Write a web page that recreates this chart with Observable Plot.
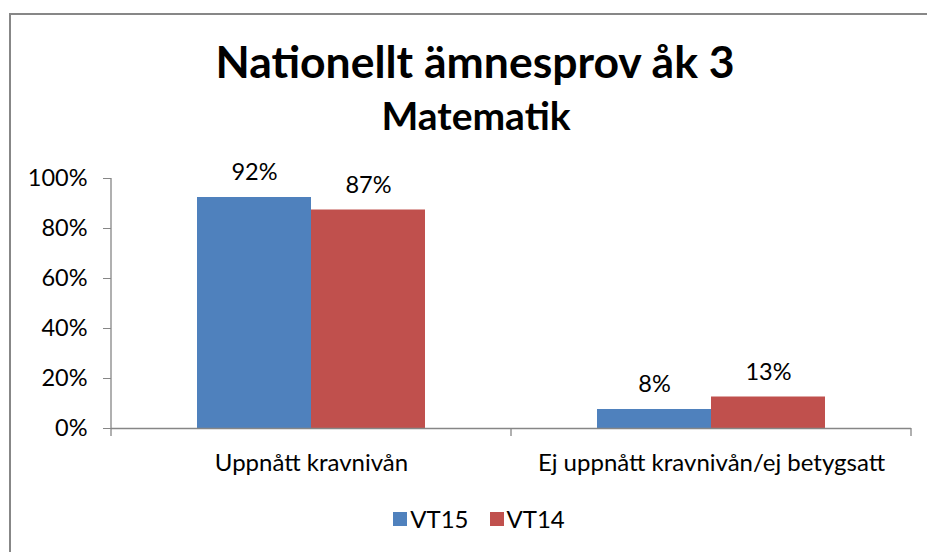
<!DOCTYPE html>
<html>
<head>
<meta charset="utf-8">
<script src="https://cdn.jsdelivr.net/npm/d3@7"></script>
<script src="https://cdn.jsdelivr.net/npm/@observablehq/plot@0.6"></script>
<style>
  html, body { overflow: hidden; }
  body { margin: 0; width: 927px; height: 552px; background: #fff; font-family: Lato, sans-serif; color: #000; position: relative; }
  #frame { position: absolute; left: 9px; top: 13px; width: 960px; height: 600px; border-left: 2px solid #878787; border-top: 2px solid #878787; }
  #title { position: absolute; left: 0; width: 950px; top: 38.5px; text-align: center; font-weight: 700; font-size: 44.5px; line-height: 44.5px; white-space: nowrap; }
  #subtitle { position: absolute; left: 0; width: 952px; top: 96px; text-align: center; font-weight: 700; font-size: 39px; line-height: 39px; white-space: nowrap; }
  #chart { position: absolute; left: 0; top: 150px; }
  #legend { position: absolute; left: 0; width: 958px; top: 507px; height: 24px; display: flex; justify-content: center; align-items: center; gap: 21px; font-size: 24px; line-height: 24px; }
  .item { display: flex; align-items: center; }
  .sw { width: 14px; height: 14px; margin-right: 3px; }
</style>
</head>
<body>
<div id="frame"></div>
<div id="title">Nationellt ämnesprov åk 3</div>
<div id="subtitle">Matematik</div>
<div id="chart"></div>
<div id="legend"></div>
<script>
const categories = ["Uppnått kravnivån", "Ej uppnått kravnivån/ej betygsatt"];
const series = ["VT15", "VT14"];
const vt15 = [0.924, 0.076];
const vt14 = [0.874, 0.126];
const colors = ["#4F81BD", "#C0504D"];
const yTicks = [0, 0.2, 0.4, 0.6, 0.8, 1];

const data = categories.flatMap((c, i) => [
  {category: c, series: "VT15", value: vt15[i]},
  {category: c, series: "VT14", value: vt14[i]}
]);
const pct = d3.format(".0%");
const axisColor = "#868686";

const chart = Plot.plot({
  width: 927,
  height: 330,
  marginLeft: 111,
  marginRight: 16,
  marginTop: 28,
  marginBottom: 52,
  style: {fontFamily: "Lato, sans-serif", color: "#000", background: "transparent", overflow: "visible"},
  fx: {domain: categories, padding: 0, label: null},
  x: {domain: series, paddingInner: 0, paddingOuter: 0.754, axis: null},
  y: {domain: [0, 1], label: null},
  color: {domain: series, range: colors},
  marks: [
    Plot.barY(data, {fx: "category", x: "series", y: "value", fill: "series"}),
    Plot.text(data, {fx: "category", x: "series", y: "value", text: d => pct(d.value), dy: -25, fontSize: 23.5, fill: "#000"}),
    Plot.ruleY([0], {stroke: axisColor, strokeWidth: 1.3}),
    Plot.axisY({ticks: yTicks, tickFormat: pct, tickSize: 8, tickPadding: 16, fontSize: 23.5, stroke: axisColor, label: null}),
    Plot.axisFx({anchor: "bottom", tickSize: 0, tickPadding: 25.5, fontSize: 24, label: null})
  ]
});
document.getElementById("chart").append(chart);

// y-axis line and category boundary ticks, from the chart's own scales
const svg = d3.select(chart.tagName.toLowerCase() === "svg" ? chart : chart.querySelector("svg"));
const fx = chart.scale("fx");
const y = chart.scale("y");
const y0 = y.apply(0), y1 = y.apply(1);
const x0 = fx.apply(categories[0]);
const g = svg.append("g").attr("stroke", axisColor).attr("stroke-width", 1.3);
g.append("line").attr("x1", x0).attr("x2", x0).attr("y1", y1).attr("y2", y0);
const bounds = categories.map(c => fx.apply(c)).concat([fx.apply(categories[categories.length - 1]) + fx.bandwidth]);
bounds.forEach(b => g.append("line").attr("x1", b).attr("x2", b).attr("y1", y0).attr("y2", y0 + 8));

// legend
const legend = d3.select("#legend");
series.forEach((s, i) => {
  const it = legend.append("div").attr("class", "item");
  it.append("div").attr("class", "sw").style("background", colors[i]);
  it.append("span").text(s);
});
</script>
</body>
</html>
